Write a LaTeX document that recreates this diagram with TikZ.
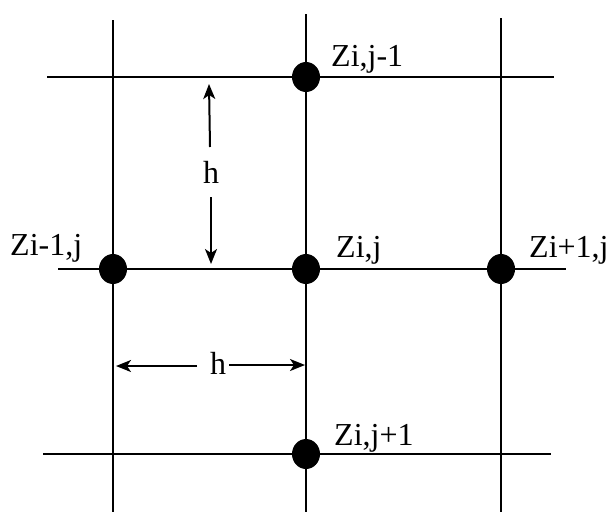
\documentclass[tikz,border=0pt]{standalone}
\usepackage{fontspec}
\setmainfont{Liberation Serif}
\usetikzlibrary{shapes.geometric,arrows.meta}
\begin{document}
\begin{tikzpicture}[x=1pt,y=-1pt,
  gridline/.style={line width=2.6pt},
  dotnode/.style={ellipse,fill=black,minimum width=28pt,minimum height=30pt,inner sep=0pt},
  lbl/.style={anchor=base west,inner sep=0pt,font=\fontsize{32}{36}\selectfont},
  htext/.style={inner sep=0pt,font=\fontsize{32}{36}\selectfont},
  harrow/.style={line width=2pt,-{Stealth[length=15pt,width=12pt,inset=4pt]}}]
\useasboundingbox (0,0) rectangle (609,514);
% grid end points
\coordinate (v1t) at (113,20);  \coordinate (v1b) at (113,512);
\coordinate (v2t) at (306,14);  \coordinate (v2b) at (306,512);
\coordinate (v3t) at (501,18);  \coordinate (v3b) at (501,512);
\coordinate (h1l) at (47,77);   \coordinate (h1r) at (554,77);
\coordinate (h2l) at (58,269);  \coordinate (h2r) at (566,269);
\coordinate (h3l) at (43,454);  \coordinate (h3r) at (551,454);
\draw[gridline] (v1t) -- (v1b);
\draw[gridline] (v2t) -- (v2b);
\draw[gridline] (v3t) -- (v3b);
\draw[gridline] (h1l) -- (h1r);
\draw[gridline] (h2l) -- (h2r);
\draw[gridline] (h3l) -- (h3r);
% dots
\node[dotnode] (ztop) at (306,77) {};
\node[dotnode] (zleft) at (113,269) {};
\node[dotnode] (zmid) at (306,269) {};
\node[dotnode] (zright) at (501,269) {};
\node[dotnode] (zbot) at (306,454) {};
% labels
\node[lbl] (ltop) at (331,66) {Zi,j-1};
\node[lbl] (lleft) at (10,255) {Zi-1,j};
\node[lbl] (lmid) at (336,257) {Zi,j};
\node[lbl] (lright) at (529,257) {Zi+1,j};
\node[lbl] (lbot) at (334,445) {Zi,j+1};
% vertical h
\node[htext] (hv) at (211,172) {h};
\coordinate (hvt) at (209,84);
\coordinate (hvb) at (211,264);
\coordinate (hva) at (210,147);
\coordinate (hvc) at (211,197);
\draw[harrow] (hva) -- (hvt);
\draw[harrow] (hvc) -- (hvb);
% horizontal h
\node[htext] (hh) at (218,363) {h};
\coordinate (hhl) at (116,366);
\coordinate (hhr) at (305,365);
\coordinate (hha) at (197,366);
\coordinate (hhc) at (229,365);
\draw[harrow] (hha) -- (hhl);
\draw[harrow] (hhc) -- (hhr);
\end{tikzpicture}
\end{document}
